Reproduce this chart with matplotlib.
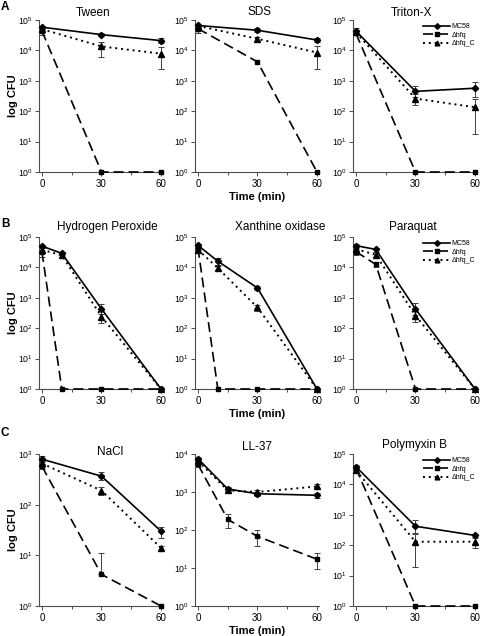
import numpy as np
import matplotlib
matplotlib.use("Agg")
import matplotlib.pyplot as plt
from matplotlib.ticker import LogLocator, FixedLocator

plt.rcParams['font.family'] = ['Liberation Sans', 'DejaVu Sans']

# --- data (CFU) ---
titles = ["Tween", "SDS", "Triton-X",
          "Hydrogen Peroxide", "Xanthine oxidase", "Paraquat",
          "NaCl", "LL-37", "Polymyxin B"]
ytops = [1e5, 1e5, 1e5, 1e5, 1e5, 1e5, 1e3, 1e4, 1e5]
strains = ["MC58", "\u0394hfq", "\u0394hfq_C"]

tween_t = [0, 30, 60]
tween_mc58 = [5.8e4, 3.3e4, 2.1e4]
tween_mc58_err = [(5.0e4, 6.5e4), (2.9e4, 3.8e4), (1.8e4, 2.5e4)]
tween_hfq = [4.3e4, 1, 1]
tween_hfq_err = [(3.3e4, 5.2e4), None, None]
tween_hfqc = [5.0e4, 1.35e4, 7.8e3]
tween_hfqc_err = [(4.2e4, 5.8e4), (5.9e3, 1.9e4), (2.4e3, 1.3e4)]

sds_t = [0, 30, 60]
sds_mc58 = [6.6e4, 4.6e4, 2.2e4]
sds_mc58_err = [(5.8e4, 7.4e4), (3.9e4, 5.4e4), (1.9e4, 2.6e4)]
sds_hfq = [5.2e4, 4.2e3, 1]
sds_hfq_err = [(3.6e4, 6.0e4), None, None]
sds_hfqc = [6.4e4, 2.4e4, 8.5e3]
sds_hfqc_err = [(5.5e4, 7.0e4), (2.1e4, 2.8e4), (2.4e3, 1.4e4)]

triton_t = [0, 30, 60]
triton_mc58 = [4.3e4, 4.5e2, 5.7e2]
triton_mc58_err = [(3.5e4, 5.4e4), (3.0e2, 6.8e2), (3.0e2, 9.2e2)]
triton_hfq = [3.6e4, 1, 1]
triton_hfq_err = [None, None, None]
triton_hfqc = [3.9e4, 2.6e2, 1.35e2]
triton_hfqc_err = [(3.2e4, 4.6e4), (1.6e2, 3.7e2), (18, 2.5e2)]

h2o2_t = [0, 10, 30, 60]
h2o2_mc58 = [5.0e4, 2.9e4, 4.3e2, 1]
h2o2_mc58_err = [(4.3e4, 5.6e4), (2.5e4, 3.3e4), (3.0e2, 6.2e2), None]
h2o2_hfq = [3.2e4, 1, 1, 1]
h2o2_hfq_err = [(2.2e4, 4.2e4), None, None, None]
h2o2_hfqc = [3.8e4, 2.5e4, 2.4e2, 1]
h2o2_hfqc_err = [(3.2e4, 4.4e4), (2.1e4, 2.9e4), (1.5e2, 3.6e2), None]

xo_t = [0, 10, 30, 60]
xo_mc58 = [5.3e4, 1.6e4, 2.1e3, 1]
xo_mc58_err = [(4.6e4, 6.0e4), (1.2e4, 2.1e4), (1.8e3, 2.5e3), None]
xo_hfq = [4.4e4, 1, 1, 1]
xo_hfq_err = [(3.8e4, 5.0e4), None, None, None]
xo_hfqc = [3.8e4, 9.5e3, 4.8e2, 1]
xo_hfqc_err = [(3.2e4, 4.4e4), (8.0e3, 1.1e4), (3.8e2, 5.8e2), None]

pq_t = [0, 10, 30, 60]
pq_mc58 = [5.2e4, 3.9e4, 4.3e2, 1]
pq_mc58_err = [(4.3e4, 6.0e4), (3.3e4, 4.5e4), (2.8e2, 6.5e2), None]
pq_hfq = [3.3e4, 1.25e4, 1, 1]
pq_hfq_err = [(2.6e4, 4.0e4), (1.05e4, 1.45e4), None, None]
pq_hfqc = [4.0e4, 2.6e4, 2.6e2, 1]
pq_hfqc_err = [(3.3e4, 4.6e4), (2.1e4, 3.1e4), (1.6e2, 3.8e2), None]

nacl_t = [0, 30, 60]
nacl_mc58 = [790, 365, 30]
nacl_mc58_err = [(680, 900), (300, 440), (22, 37)]
nacl_hfq = [570, 4.2, 1]
nacl_hfq_err = [(500, 640), (4.2, 11), None]
nacl_hfqc = [650, 190, 14]
nacl_hfqc_err = [(560, 740), (155, 225), (12.5, 15.5)]

ll37_t = [0, 15, 30, 60]
ll37_mc58 = [7.5e3, 1.2e3, 900, 820]
ll37_mc58_err = [(6.6e3, 8.4e3), (1.05e3, 1.35e3), (800, 1000), (700, 950)]
ll37_hfq = [5.3e3, 190, 68, 17]
ll37_hfq_err = [(4.6e3, 6.0e3), (110, 270), (37, 102), (9.5, 25)]
ll37_hfqc = [6.6e3, 1.1e3, 1.0e3, 1.4e3]
ll37_hfqc_err = [(5.8e3, 7.4e3), (950, 1.25e3), (900, 1.1e3), (1.2e3, 1.6e3)]

pmb_t = [0, 30, 60]
pmb_mc58 = [3.8e4, 4.2e2, 2.1e2]
pmb_mc58_err = [(3.3e4, 4.3e4), (2.6e2, 6.5e2), (1.8e2, 2.4e2)]
pmb_hfq = [3.4e4, 1, 1]
pmb_hfq_err = [None, None, None]
pmb_hfqc = [2.9e4, 1.3e2, 1.3e2]
pmb_hfqc_err = [(2.4e4, 3.4e4), (19, 2.4e2), (82, 1.7e2)]

panels = [
    (tween_t, [tween_mc58, tween_hfq, tween_hfqc], [tween_mc58_err, tween_hfq_err, tween_hfqc_err]),
    (sds_t, [sds_mc58, sds_hfq, sds_hfqc], [sds_mc58_err, sds_hfq_err, sds_hfqc_err]),
    (triton_t, [triton_mc58, triton_hfq, triton_hfqc], [triton_mc58_err, triton_hfq_err, triton_hfqc_err]),
    (h2o2_t, [h2o2_mc58, h2o2_hfq, h2o2_hfqc], [h2o2_mc58_err, h2o2_hfq_err, h2o2_hfqc_err]),
    (xo_t, [xo_mc58, xo_hfq, xo_hfqc], [xo_mc58_err, xo_hfq_err, xo_hfqc_err]),
    (pq_t, [pq_mc58, pq_hfq, pq_hfqc], [pq_mc58_err, pq_hfq_err, pq_hfqc_err]),
    (nacl_t, [nacl_mc58, nacl_hfq, nacl_hfqc], [nacl_mc58_err, nacl_hfq_err, nacl_hfqc_err]),
    (ll37_t, [ll37_mc58, ll37_hfq, ll37_hfqc], [ll37_mc58_err, ll37_hfq_err, ll37_hfqc_err]),
    (pmb_t, [pmb_mc58, pmb_hfq, pmb_hfqc], [pmb_mc58_err, pmb_hfq_err, pmb_hfqc_err]),
]

# --- styles ---
styles = [
    dict(ls='-', marker='D', ms=3.2, lw=1.2, zorder=5),
    dict(ls=(0, (6, 3)), marker='s', ms=3.0, lw=1.2, zorder=4),
    dict(ls=(0, (1, 2)), marker='^', ms=3.8, lw=1.4, zorder=3),
]

W, H = 480, 636
fig = plt.figure(figsize=(4.8, 6.36), dpi=100)

col_left = [39, 195, 353]
col_w = 124
row_top = [20, 237, 454]
row_h = 152
title_pos = [(93, 13), (260, 12), (412, 13),
             (107, 227), (280, 227), (413, 227),
             (110, 452), (257, 447), (415, 445)]
spine_c = '0.3'

for i, (t, series, errs) in enumerate(panels):
    r, c = divmod(i, 3)
    ax = fig.add_axes([col_left[c] / W, 1 - (row_top[r] + row_h) / H, col_w / W, row_h / H])
    for j, (vals, err, st) in enumerate(zip(series, errs, styles)):
        ax.plot(t, vals, color='black', clip_on=False, label=strains[j], **st)
        for x, v, e in zip(t, vals, err):
            if e is None:
                continue
            lo, hi = e
            ax.errorbar([x], [v], yerr=[[v - lo], [hi - v]], fmt='none', ecolor='0.25',
                        elinewidth=0.7, capsize=2, capthick=0.7, zorder=2, clip_on=False)
    ax.set_yscale('log')
    ax.set_ylim(1, ytops[i])
    ax.set_xlim(-1.5, 61)
    ax.yaxis.set_major_locator(LogLocator(base=10, numticks=10))
    ax.yaxis.set_minor_locator(FixedLocator([]))
    ax.set_xticks([0, 30, 60])
    ax.set_xticks([15, 45], minor=True)
    ax.tick_params(axis='y', labelsize=6.3, length=3, width=0.7, color=spine_c, pad=1.5)
    ax.tick_params(axis='x', labelsize=7, length=3, width=0.7, color=spine_c, pad=2)
    ax.tick_params(axis='x', which='minor', length=2.2, width=0.7, color=spine_c)
    for s in ['top', 'right']:
        ax.spines[s].set_visible(False)
    for s in ['left', 'bottom']:
        ax.spines[s].set_color(spine_c)
        ax.spines[s].set_linewidth(0.8)
    ax.patch.set_alpha(0)
    tx, ty = title_pos[i]
    fig.text(tx / W, 1 - ty / H, titles[i], ha='center', va='center', fontsize=8.5)
    if c == 2:
        leg = ax.legend(loc='upper left', bbox_to_anchor=((423 - col_left[2]) / col_w, 1.0 - 3 / row_h),
                        frameon=False, fontsize=5, handlelength=3.9, handletextpad=0.2,
                        labelspacing=0.25, borderpad=0, borderaxespad=0, markerscale=0.9)
    if c == 1:
        ax.set_xlabel('Time (min)', fontsize=8, fontweight='bold', labelpad=2)
    if c == 0:
        fig.text(13 / W, 1 - (row_top[r] + row_h / 2) / H, 'log CFU', rotation=90,
                 ha='center', va='center', fontsize=8, fontweight='bold')

for letter, y in zip("ABC", [7, 224, 433]):
    fig.text(5 / W, 1 - y / H, letter, ha='center', va='center', fontsize=8.5, fontweight='bold')

fig.savefig('out.png', dpi=100)
